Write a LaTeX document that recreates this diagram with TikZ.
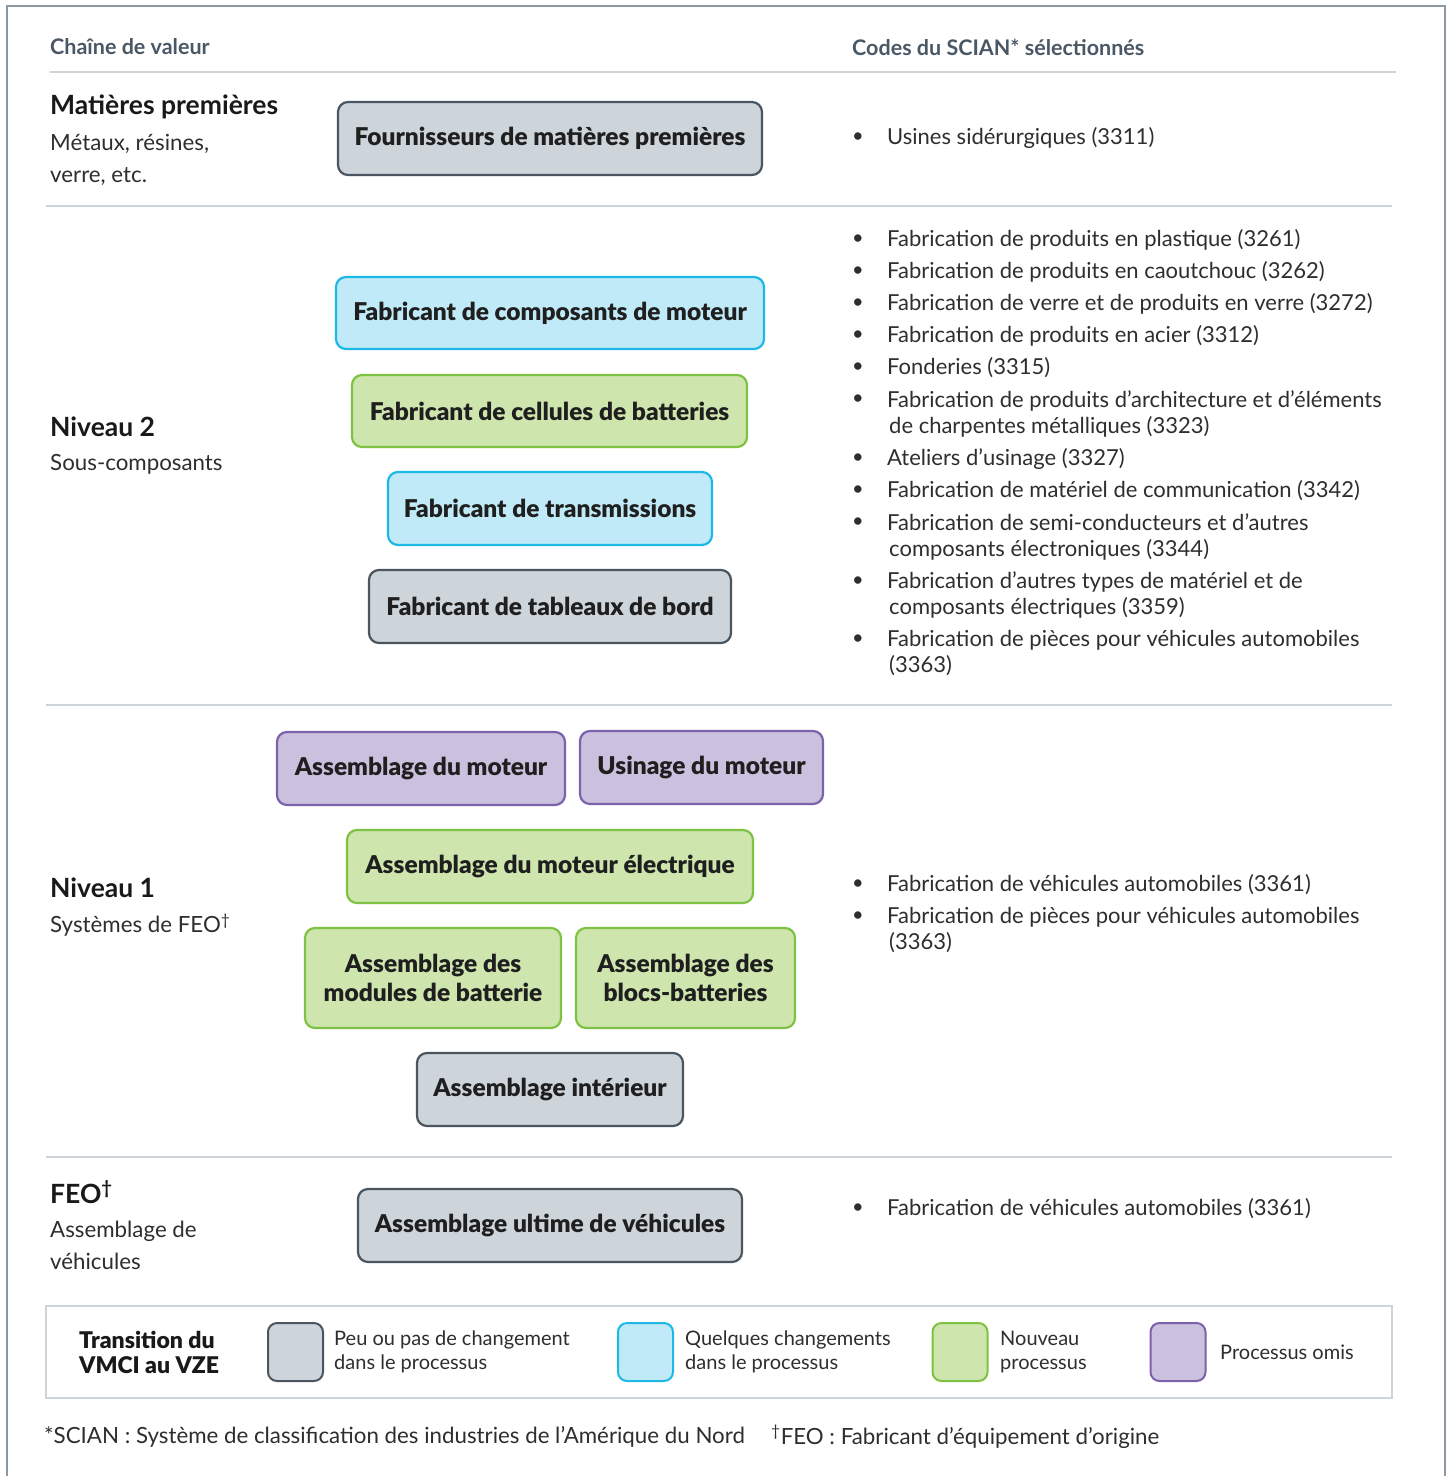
\documentclass[tikz,border=0pt]{standalone}
\usepackage{fontspec}
\setmainfont{Lato}
\newfontfamily\heavy{Lato Black}
\definecolor{frame}{HTML}{8C98A2}
\definecolor{rule}{HTML}{CDD5DA}
\definecolor{head}{HTML}{4A5866}
\definecolor{txt}{HTML}{2E2E2E}
\definecolor{gfill}{HTML}{CDD5DB}
\definecolor{gline}{HTML}{4A5560}
\definecolor{bfill}{HTML}{C0EAF7}
\definecolor{bline}{HTML}{1EB8E6}
\definecolor{nfill}{HTML}{CFE5AE}
\definecolor{nline}{HTML}{7DC242}
\definecolor{pfill}{HTML}{CBC1DF}
\definecolor{pline}{HTML}{7B62AA}
\tikzset{
  pbox/.style={draw, rounded corners=10pt, line width=2.2pt, align=center, inner sep=0pt,
    font=\heavy\fontsize{24.5}{29}\selectfont, text=black!88},
  grayb/.style={pbox, fill=gfill, draw=gline},
  blueb/.style={pbox, fill=bfill, draw=bline},
  greenb/.style={pbox, fill=nfill, draw=nline},
  purpb/.style={pbox, fill=pfill, draw=pline},
  swatch/.style={draw, rounded corners=9pt, line width=2pt, minimum width=55pt, minimum height=58pt, inner sep=0pt},
  sect/.style={anchor=west, inner sep=0pt, font=\bfseries\fontsize{26.5}{30}\selectfont, text=black!90},
  sub/.style={anchor=west, inner sep=0pt, font=\fontsize{22.3}{32}\selectfont, text=txt, align=left},
  hd/.style={anchor=west, inner sep=0pt, font=\bfseries\fontsize{21.5}{25}\selectfont, text=head},
  item/.style={anchor=west, inner sep=0pt, font=\fontsize{22}{26}\selectfont, text=txt, align=left},
  bul/.style={inner sep=0pt, font=\fontsize{20}{24}\selectfont, text=txt},
  leg/.style={anchor=west, inner sep=0pt, font=\fontsize{20}{24}\selectfont, text=txt, align=left},
  hline/.style={draw=rule, line width=2.5pt},
}
\newcommand{\bx}[7]{% style, name, x1, y1, x2, y2, text
  \node[#1, minimum width=#5pt-#3pt, minimum height=#6pt-#4pt] (#2) at ({(#3+#5)/2},{(#4+#6)/2}) {#7};}
\begin{document}
\begin{tikzpicture}[x=1pt,y=-1pt]
\useasboundingbox (0,0) rectangle (1448,1476);
\fill[white] (0,0) rectangle (1448,1476);
% outer frame
\coordinate (fbl) at (7,1480);
\coordinate (ftl) at (7,6);
\coordinate (ftr) at (1445,6);
\coordinate (fbr) at (1445,1480);
\draw[frame, line width=2pt] (fbl) -- (ftl) -- (ftr) -- (fbr);

% headers
\node[hd] (h1) at (50,47) {Chaîne de valeur};
\node[hd] (h2) at (852,47) {Codes du SCIAN* sélectionnés};
\coordinate (r0a) at (50,72); \coordinate (r0b) at (1396,72);
\draw[hline] (r0a) -- (r0b);

% section 1
\node[sect] (s1) at (50,107) {Matières premières};
\node[sub] (s1a) at (50,160) {Métaux, résines,\\verre, etc.};
\bx{grayb}{b1}{338}{102}{762}{175}{Fournisseurs de matières premières}
\node[bul] (u1) at (858,138) {•};
\node[item] (i1) at (887,138) {Usines sidérurgiques (3311)};
\coordinate (r1a) at (46,206); \coordinate (r1b) at (1392,206);
\draw[hline] (r1a) -- (r1b);

% section 2
\node[sect] (s2) at (50,427) {Niveau 2};
\node[sub] (s2a) at (50,464) {Sous-composants};
\bx{blueb}{b2}{336}{277}{764}{349}{Fabricant de composants de moteur}
\bx{greenb}{b3}{352}{375}{747}{447}{Fabricant de cellules de batteries}
\bx{blueb}{b4}{388}{472}{712}{545}{Fabricant de transmissions}
\bx{grayb}{b5}{369}{570}{731}{643}{Fabricant de tableaux de bord}
\foreach \y/\t in {240/{Fabrication de produits en plastique (3261)},
  272/{Fabrication de produits en caoutchouc (3262)},
  304/{Fabrication de verre et de produits en verre (3272)},
  336/{Fabrication de produits en acier (3312)},
  368/{Fonderies (3315)},
  459/{Ateliers d’usinage (3327)},
  491/{Fabrication de matériel de communication (3342)}}{
  \node[bul] (ub\y) at (858,\y) {•};
  \node[item] (ib\y) at (887,\y) {\t};
}
\node[bul] (ub400) at (858,400) {•};
\node[item] (ib400) at (887,413.5) {Fabrication de produits d’architecture et d’éléments\\\hspace{2pt}de charpentes métalliques (3323)};
\node[bul] (ub523) at (858,523) {•};
\node[item] (ib523) at (887,536.5) {Fabrication de semi-conducteurs et d’autres\\\hspace{2pt}composants électroniques (3344)};
\node[bul] (ub582) at (858,582) {•};
\node[item] (ib582) at (887,595) {Fabrication d’autres types de matériel et de\\\hspace{2pt}composants électriques (3359)};
\node[bul] (ub640) at (858,640) {•};
\node[item] (ib640) at (887,653) {Fabrication de pièces pour véhicules automobiles\\\hspace{2pt}(3363)};
\coordinate (r2a) at (46,705); \coordinate (r2b) at (1392,705);
\draw[hline] (r2a) -- (r2b);

% section 3
\node[sect] (s3) at (50,888) {Niveau 1};
\node[sub] (s3a) at (50,925) {Systèmes de FEO\textsuperscript{†}};
\bx{purpb}{b6}{277}{732}{565}{805}{Assemblage du moteur}
\bx{purpb}{b7}{580}{731}{823}{804}{Usinage du moteur}
\bx{greenb}{b8}{347}{830}{753}{903}{Assemblage du moteur électrique}
\bx{greenb}{b9}{305}{928}{561}{1028}{Assemblage des\\modules de batterie}
\bx{greenb}{b10}{576}{928}{795}{1028}{Assemblage des\\blocs-batteries}
\bx{grayb}{b11}{417}{1053}{683}{1126}{Assemblage intérieur}
\node[bul] (uc1) at (858,885) {•};
\node[item] (ic1) at (887,885) {Fabrication de véhicules automobiles (3361)};
\node[bul] (uc2) at (858,917) {•};
\node[item] (ic2) at (887,930) {Fabrication de pièces pour véhicules automobiles\\\hspace{2pt}(3363)};
\coordinate (r3a) at (46,1157); \coordinate (r3b) at (1392,1157);
\draw[hline] (r3a) -- (r3b);

% section 4
\node[sect] (s4) at (50,1192) {FEO\textsuperscript{†}};
\node[sub] (s4a) at (50,1245) {Assemblage de\\véhicules};
\bx{grayb}{b12}{358}{1189}{742}{1262}{Assemblage ultime de véhicules}
\node[bul] (ud1) at (858,1209) {•};
\node[item] (id1) at (887,1209) {Fabrication de véhicules automobiles (3361)};

% legend
\node[draw=rule, line width=2.5pt, minimum width=1346pt, minimum height=92pt, inner sep=0pt] (legbox) at (719,1352) {};
\node[anchor=west, inner sep=0pt, font=\heavy\fontsize{23}{25}\selectfont, text=black!90, align=left] (lt) at (79,1352) {Transition du\\VMCI au VZE};
\node[swatch, fill=gfill, draw=gline] (sw1) at (295.5,1352) {};
\node[leg] (lg1) at (334,1352) {Peu ou pas de changement\\dans le processus};
\node[swatch, fill=bfill, draw=bline] (sw2) at (645.5,1352) {};
\node[leg] (lg2) at (685,1352) {Quelques changements\\dans le processus};
\node[swatch, fill=nfill, draw=nline] (sw3) at (960,1352) {};
\node[leg] (lg3) at (1000,1352) {Nouveau\\processus};
\node[swatch, fill=pfill, draw=pline] (sw4) at (1178,1352) {};
\node[leg] (lg4) at (1220,1352) {Processus omis};

% footer
\node[anchor=west, inner sep=0pt, font=\fontsize{22.3}{26}\selectfont, text=txt] (f1) at (44,1437) {*SCIAN : Système de classification des industries de l’Amérique du Nord};
\node[anchor=west, inner sep=0pt, font=\fontsize{22.3}{26}\selectfont, text=txt] (f2) at (771,1437) {\textsuperscript{†}FEO : Fabricant d’équipement d’origine};
\end{tikzpicture}
\end{document}
